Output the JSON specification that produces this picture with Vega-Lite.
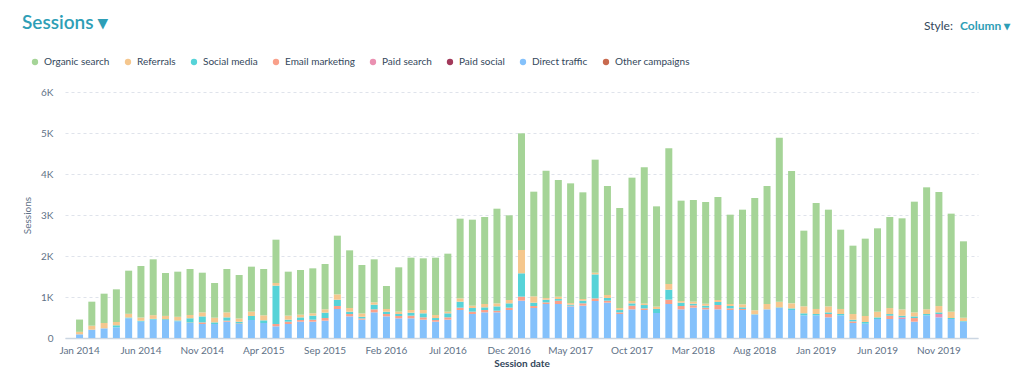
{
  "$schema": "https://vega.github.io/schema/vega-lite/v6.json",
  "width": 913,
  "height": 246,
  "autosize": "none",
  "padding": {"left": 65, "top": 92, "right": 46, "bottom": 53},
  "config": {
    "font": "Lato",
    "view": {"stroke": null}
  },
  "title": {
    "text": "Sessions ▾",
    "anchor": "start",
    "frame": "group",
    "fontSize": 19,
    "fontWeight": 600,
    "color": "#2e9eb6",
    "dx": -43,
    "offset": 0,
    "dy": 13
  },
  "datasets": {
    "series": [
      {"k": "d", "name": "Direct traffic", "ord": 0},
      {"k": "p", "name": "Paid search", "ord": 3},
      {"k": "e", "name": "Email marketing", "ord": 4},
      {"k": "s", "name": "Social media", "ord": 5},
      {"k": "r", "name": "Referrals", "ord": 6},
      {"k": "o", "name": "Organic search", "ord": 7}
    ]
  },
  "data": {
    "values": [
      {"m": "Jan 2014", "d": 90, "r": 60, "o": 300},
      {"m": "Feb 2014", "d": 203, "r": 97, "o": 586},
      {"m": "Mar 2014", "d": 236, "r": 130, "o": 715},
      {"m": "Apr 2014", "d": 260, "s": 50, "r": 80, "o": 797},
      {"m": "May 2014", "d": 480, "s": 20, "r": 90, "o": 1052},
      {"m": "Jun 2014", "d": 400, "s": 20, "r": 80, "o": 1256},
      {"m": "Jul 2014", "d": 447, "s": 20, "r": 90, "o": 1362},
      {"m": "Aug 2014", "d": 439, "s": 20, "r": 80, "o": 1046},
      {"m": "Sep 2014", "d": 407, "s": 20, "r": 90, "o": 1101},
      {"m": "Oct 2014", "d": 366, "e": 15, "s": 100, "r": 80, "o": 1122},
      {"m": "Nov 2014", "d": 341, "e": 40, "s": 146, "r": 98, "o": 968},
      {"m": "Dec 2014", "d": 341, "s": 40, "r": 114, "o": 846},
      {"m": "Jan 2015", "d": 398, "e": 25, "s": 80, "r": 122, "o": 1058},
      {"m": "Feb 2015", "d": 341, "e": 15, "s": 40, "r": 80, "o": 1061},
      {"m": "Mar 2015", "d": 439, "s": 98, "r": 106, "o": 1097},
      {"m": "Apr 2015", "d": 366, "s": 65, "r": 122, "o": 1130},
      {"m": "May 2015", "d": 285, "e": 57, "s": 935, "r": 65, "o": 1056},
      {"m": "Jun 2015", "d": 341, "e": 57, "s": 49, "r": 98, "o": 1073},
      {"m": "Jul 2015", "d": 398, "e": 40, "s": 65, "r": 65, "o": 1091},
      {"m": "Aug 2015", "d": 398, "e": 49, "s": 98, "r": 57, "o": 1097},
      {"m": "Sep 2015", "d": 423, "e": 65, "s": 130, "r": 81, "o": 1106},
      {"m": "Oct 2015", "d": 707, "e": 73, "s": 154, "r": 130, "o": 1432},
      {"m": "Nov 2015", "d": 528, "e": 57, "s": 57, "r": 89, "o": 1407},
      {"m": "Dec 2015", "d": 447, "e": 30, "s": 40, "r": 81, "o": 1182},
      {"m": "Jan 2016", "d": 626, "e": 73, "s": 114, "r": 57, "o": 1049},
      {"m": "Feb 2016", "d": 528, "e": 57, "s": 57, "r": 65, "o": 561},
      {"m": "Mar 2016", "d": 480, "e": 57, "s": 49, "r": 57, "o": 1081},
      {"m": "Apr 2016", "d": 480, "e": 65, "s": 73, "r": 65, "o": 1276},
      {"m": "May 2016", "d": 447, "e": 57, "s": 98, "r": 81, "o": 1260},
      {"m": "Jun 2016", "d": 398, "e": 40, "s": 49, "r": 73, "o": 1399},
      {"m": "Jul 2016", "d": 447, "e": 57, "s": 98, "r": 40, "o": 1415},
      {"m": "Aug 2016", "d": 683, "e": 57, "s": 146, "r": 81, "o": 1944},
      {"m": "Sep 2016", "d": 585, "e": 57, "s": 89, "r": 57, "o": 2098},
      {"m": "Oct 2016", "d": 626, "e": 57, "s": 65, "r": 81, "o": 2122},
      {"m": "Nov 2016", "d": 626, "e": 40, "s": 106, "r": 73, "o": 2309},
      {"m": "Dec 2016", "d": 683, "e": 57, "s": 106, "r": 81, "o": 2065},
      {"m": "Jan 2017", "d": 911, "e": 98, "s": 569, "r": 569, "o": 2845},
      {"m": "Feb 2017", "d": 732, "e": 49, "s": 81, "r": 154, "o": 2553},
      {"m": "Mar 2017", "d": 829, "e": 40, "s": 65, "r": 40, "o": 3107},
      {"m": "Apr 2017", "d": 829, "e": 81, "s": 40, "r": 57, "o": 2847},
      {"m": "May 2017", "d": 772, "e": 15, "s": 25, "r": 40, "o": 2920},
      {"m": "Jun 2017", "d": 789, "e": 57, "s": 65, "r": 40, "o": 2602},
      {"m": "Jul 2017", "d": 902, "e": 65, "s": 585, "r": 40, "o": 2758},
      {"m": "Aug 2017", "d": 862, "e": 49, "s": 65, "r": 73, "o": 2658},
      {"m": "Sep 2017", "d": 585, "e": 40, "s": 57, "r": 49, "o": 2440},
      {"m": "Oct 2017", "d": 699, "e": 89, "s": 57, "r": 57, "o": 3009},
      {"m": "Nov 2017", "d": 683, "e": 40, "s": 81, "r": 40, "o": 3319},
      {"m": "Dec 2017", "d": 610, "s": 98, "r": 57, "o": 2446},
      {"m": "Jan 2018", "d": 829, "e": 106, "s": 244, "r": 138, "o": 3309},
      {"m": "Feb 2018", "d": 699, "e": 81, "s": 81, "r": 40, "o": 2449},
      {"m": "Mar 2018", "d": 740, "e": 57, "s": 40, "r": 49, "o": 2480},
      {"m": "Apr 2018", "d": 699, "e": 40, "s": 49, "r": 49, "o": 2480},
      {"m": "May 2018", "d": 699, "e": 106, "s": 73, "r": 49, "o": 2512},
      {"m": "Jun 2018", "d": 683, "e": 40, "s": 57, "r": 49, "o": 2179},
      {"m": "Jul 2018", "d": 683, "e": 25, "s": 40, "r": 73, "o": 2309},
      {"m": "Aug 2018", "d": 569, "s": 10, "r": 98, "o": 2738},
      {"m": "Sep 2018", "d": 699, "r": 130, "o": 2878},
      {"m": "Oct 2018", "d": 732, "s": 15, "r": 138, "o": 4001},
      {"m": "Nov 2018", "d": 683, "s": 40, "r": 122, "o": 3228},
      {"m": "Dec 2018", "d": 553, "s": 49, "r": 171, "o": 1845},
      {"m": "Jan 2019", "d": 553, "s": 33, "r": 122, "o": 2585},
      {"m": "Feb 2019", "d": 504, "e": 81, "s": 40, "r": 146, "o": 2359},
      {"m": "Mar 2019", "d": 553, "s": 33, "r": 122, "o": 1934},
      {"m": "Apr 2019", "d": 366, "e": 40, "s": 40, "r": 138, "o": 1668},
      {"m": "May 2019", "d": 350, "s": 40, "r": 146, "o": 1887},
      {"m": "Jun 2019", "d": 463, "s": 40, "r": 138, "o": 2034},
      {"m": "Jul 2019", "d": 463, "e": 81, "s": 40, "r": 146, "o": 2221},
      {"m": "Aug 2019", "d": 463, "p": 40, "s": 40, "r": 154, "o": 2222},
      {"m": "Sep 2019", "d": 398, "e": 89, "s": 40, "r": 98, "o": 2700},
      {"m": "Oct 2019", "d": 553, "s": 33, "r": 114, "o": 2975},
      {"m": "Nov 2019", "d": 504, "p": 81, "s": 40, "r": 154, "o": 2782},
      {"m": "Dec 2019", "d": 463, "s": 25, "r": 154, "o": 2391},
      {"m": "Jan 2020", "d": 398, "s": 15, "r": 81, "o": 1864}
    ]
  },
  "transform": [
    {"fold": ["d", "p", "e", "s", "r", "o"], "as": ["k", "v"]},
    {"filter": "isValid(datum.v)"},
    {"lookup": "k", "from": {"data": {"name": "series"}, "key": "k", "fields": ["name", "ord"]}}
  ],
  "mark": {"type": "bar"},
  "encoding": {
    "x": {
      "field": "m",
      "type": "ordinal",
      "sort": null,
      "scale": {"paddingInner": 0.43, "paddingOuter": 0.9},
      "axis": {
        "values": ["Jan 2014", "Jun 2014", "Nov 2014", "Apr 2015", "Sep 2015", "Feb 2016", "Jul 2016", "Dec 2016", "May 2017", "Oct 2017", "Mar 2018", "Aug 2018", "Jan 2019", "Jun 2019", "Nov 2019"],
        "labelAngle": 0,
        "labelFontSize": 10,
        "labelColor": "#5f7287",
        "labelPadding": 7,
        "ticks": false,
        "domainColor": "#cbd6e2",
        "domainWidth": 1.5,
        "title": "Session date",
        "titleFontSize": 10,
        "titleFontWeight": "bold",
        "titleColor": "#33475b",
        "titlePadding": 3
      }
    },
    "y": {
      "field": "v",
      "type": "quantitative",
      "stack": "zero",
      "scale": {"domain": [0, 6000]},
      "axis": {
        "values": [0, 1000, 2000, 3000, 4000, 5000, 6000],
        "labelExpr": "datum.value == 0 ? '0' : (datum.value / 1000) + 'K'",
        "labelFontSize": 10,
        "labelColor": "#5f7287",
        "labelPadding": 12,
        "ticks": false,
        "domain": false,
        "gridColor": "#dfe3eb",
        "gridDash": [3, 3],
        "title": "Sessions",
        "titleFontSize": 10,
        "titleFontWeight": "normal",
        "titleColor": "#5f7287",
        "titlePadding": 8
      }
    },
    "color": {
      "field": "name",
      "type": "nominal",
      "scale": {
        "domain": ["Organic search", "Referrals", "Social media", "Email marketing", "Paid search", "Paid social", "Direct traffic", "Other campaigns"],
        "range": ["#a5d497", "#f5c78e", "#56d3d8", "#f9a08a", "#ea90b1", "#a2395b", "#84c1fb", "#c8694e"]
      },
      "legend": {
        "orient": "none",
        "legendX": -35,
        "legendY": -35,
        "direction": "horizontal",
        "columns": 8,
        "title": null,
        "padding": 0,
        "symbolType": "circle",
        "symbolSize": 40,
        "labelFontSize": 10,
        "labelColor": "#33475b",
        "labelOffset": 4,
        "columnPadding": 13
      }
    },
    "strokeDash": {
      "datum": "Column ▾",
      "type": "nominal",
      "scale": {"range": [[1, 0]]},
      "legend": {
        "orient": "none",
        "legendX": 859,
        "legendY": -72,
        "title": "Style:",
        "titleOrient": "left",
        "titleFontSize": 12,
        "titleFontWeight": "normal",
        "titleColor": "#33475b",
        "titlePadding": -5,
        "padding": 0,
        "symbolSize": 0,
        "symbolStrokeWidth": 0,
        "symbolOpacity": 0,
        "labelOffset": 0,
        "labelFontSize": 12,
        "labelFontWeight": "bold",
        "labelColor": "#2e9eb6"
      }
    },
    "order": {"field": "ord", "type": "quantitative"}
  }
}
